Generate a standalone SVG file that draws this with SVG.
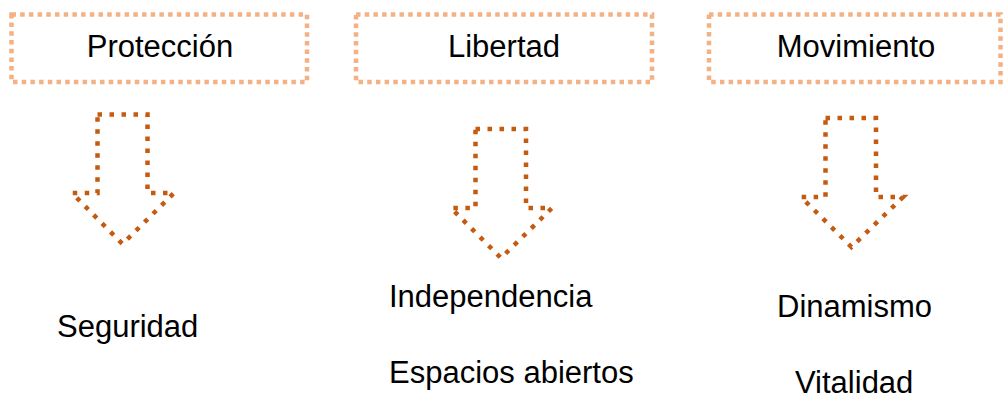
<svg xmlns="http://www.w3.org/2000/svg" width="1004" height="401" viewBox="0 0 1004 401">
<style>
.box{fill:none;stroke:#F4B183;stroke-width:4.5;stroke-dasharray:4.5 4.2}
.arr{fill:none;stroke:#C55A11;stroke-width:4.5;stroke-dasharray:4.5 7.5;stroke-linejoin:miter}
text{font-family:"Liberation Sans",Arial,sans-serif;font-size:31px;fill:#000}
.c{text-anchor:middle}
</style>
<rect width="1004" height="401" fill="#fff"/>
<g id="n-proteccion"><rect class="box" x="11.5" y="14.5" width="295.5" height="67.5"/><text class="c" x="160" y="57">Protección</text></g>
<g id="n-libertad"><rect class="box" x="356" y="14.5" width="296" height="67.5"/><text class="c" x="504" y="57">Libertad</text></g>
<g id="n-movimiento"><rect class="box" x="709" y="14.5" width="291.5" height="67.5"/><text class="c" x="856" y="57">Movimiento</text></g>
<g id="connectors">
<polygon class="arr" points="97.5,114.5 147.5,114.5 147.5,193 174,193 122.5,244 72,193 97.5,193"/>
<polygon class="arr" points="475.5,129 526,129 526,208 552,208 501,258 451,208 475.5,208"/>
<polygon class="arr" points="825.5,118 876,118 876,197 903,197 851.5,247 801,197 825.5,197"/>
</g>
<g id="n-seguridad"><text x="57" y="337">Seguridad</text></g>
<g id="n-independencia"><text x="389" y="307">Independencia</text><text x="389" y="383">Espacios abiertos</text></g>
<g id="n-dinamismo"><text x="777" y="317">Dinamismo</text><text x="795" y="393">Vitalidad</text></g>
</svg>
